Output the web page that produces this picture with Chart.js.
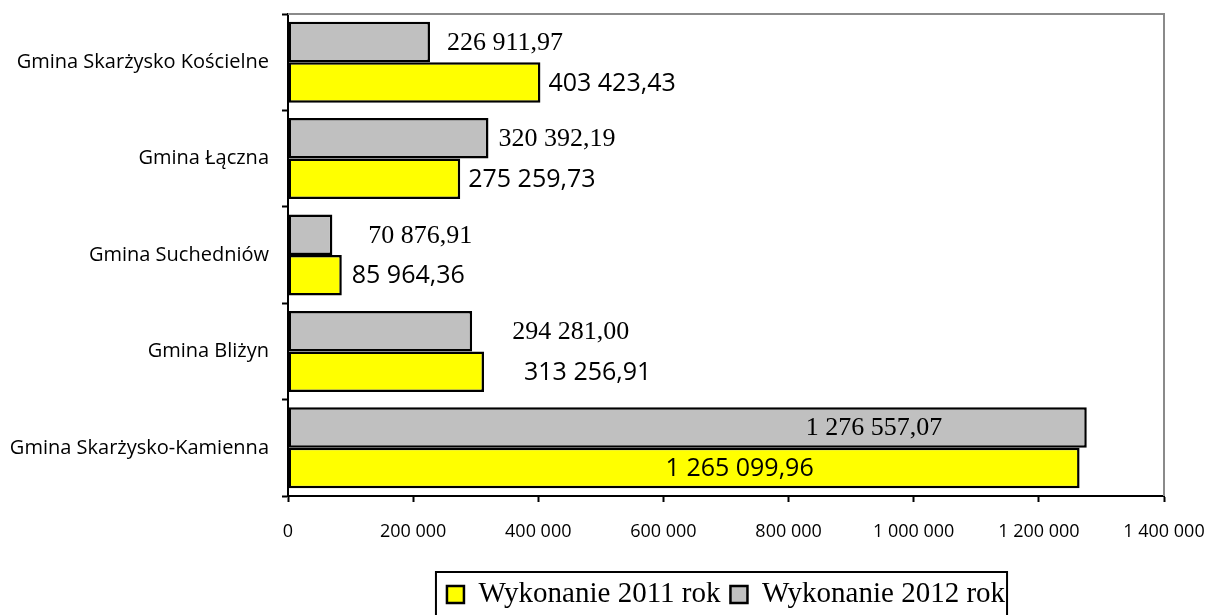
<!DOCTYPE html>
<html lang="pl">
<head>
<meta charset="utf-8">
<title>Wykonanie 2011-2012</title>
<script src="https://cdn.jsdelivr.net/npm/chart.js@4.4.1/dist/chart.umd.min.js"></script>
<style>
    html, body { margin: 0; padding: 0; background: #fff; }
    #wrap { width: 1208px; height: 615px; position: relative; }
</style>
</head>
<body>
<div id="wrap"><canvas id="barChart"></canvas></div>
<script>
const gminy = [
    'Gmina Skarżysko Kościelne',
    'Gmina Łączna',
    'Gmina Suchedniów',
    'Gmina Bliżyn',
    'Gmina Skarżysko-Kamienna'
];
const wykonanie2012 = [226911.97, 320392.19, 70876.91, 294281.00, 1276557.07];
const wykonanie2011 = [403423.43, 275259.73, 85964.36, 313256.91, 1265099.96];
const xTicks = [0, 200000, 400000, 600000, 800000, 1000000, 1200000, 1400000];

// where each value label starts, counted from the end of its bar (px)
const labelShift2012 = [17, 10, 36, 40, -281];
const labelShift2011 = [8, 8, 10, 40, -414];

function groupDigits(s) {
    return s.replace(/\B(?=(\d{3})+(?!\d))/g, ' ');
}

function fmtValue(v) {
    const [whole, dec] = v.toFixed(2).split('.');
    return groupDigits(whole) + ',' + dec;
}

// value labels next to / inside the bars
const valueLabels = {
    id: 'valueLabels',
    afterDatasetsDraw(chart) {
        const ctx = chart.ctx;
        ctx.save();
        ctx.fillStyle = '#000';
        ctx.textAlign = 'left';
        ctx.textBaseline = 'middle';
        chart.data.datasets.forEach((ds, i) => {
            const meta = chart.getDatasetMeta(i);
            ctx.font = ds.labelFont;
            meta.data.forEach((bar, j) => {
                ctx.fillText(fmtValue(ds.data[j]), bar.x + ds.labelShift[j], bar.y + 1);
            });
        });
        ctx.restore();
    }
};

// grey frame on top and right of the plot + box round the legend
const frame = {
    id: 'frame',
    afterDraw(chart) {
        const {ctx, chartArea} = chart;
        ctx.save();
        ctx.strokeStyle = '#8a8a8a';
        ctx.lineWidth = 2;
        ctx.beginPath();
        ctx.moveTo(chartArea.left, chartArea.top);
        ctx.lineTo(chartArea.right, chartArea.top);
        ctx.lineTo(chartArea.right, chartArea.bottom);
        ctx.stroke();

        const boxes = chart.legend.legendHitBoxes;
        if (boxes && boxes.length) {
            const left = Math.min(...boxes.map(b => b.left)) - 11;
            const right = Math.max(...boxes.map(b => b.left + b.width)) + 2;
            const top = Math.min(...boxes.map(b => b.top)) - 8;
            const bottom = Math.max(...boxes.map(b => b.top + b.height)) + 7;
            ctx.strokeStyle = '#000';
            ctx.lineWidth = 2;
            ctx.strokeRect(left, top, right - left, bottom - top);
        }
        ctx.restore();
    }
};

const ctx = document.getElementById('barChart').getContext('2d');

new Chart(ctx, {
    type: 'bar',
    data: {
        labels: gminy,
        datasets: [
            {
                label: 'Wykonanie 2012 rok',
                data: wykonanie2012,
                backgroundColor: '#c0c0c0',
                borderColor: '#000',
                borderWidth: 2.5,
                borderSkipped: false,
                labelFont: '26px "Liberation Serif"',
                labelShift: labelShift2012
            },
            {
                label: 'Wykonanie 2011 rok',
                data: wykonanie2011,
                backgroundColor: '#ffff00',
                borderColor: '#000',
                borderWidth: 2.5,
                borderSkipped: false,
                labelFont: '25px "Open Sans"',
                labelShift: labelShift2011
            }
        ]
    },
    options: {
        indexAxis: 'y',
        responsive: true,
        maintainAspectRatio: false,
        animation: false,
        layout: {
            padding: { top: 14, right: 44, bottom: -4, left: 0 }
        },
        datasets: {
            bar: {
                categoryPercentage: 0.84,
                barPercentage: 1.0
            }
        },
        scales: {
            x: {
                min: 0,
                max: 1400000,
                afterBuildTicks: axis => {
                    axis.ticks = xTicks.map(v => ({ value: v }));
                },
                afterFit: scale => {
                    scale.height = 74;
                    scale.paddingLeft = 0;
                    scale.paddingRight = 0;
                },
                grid: {
                    drawOnChartArea: false,
                    tickLength: 6,
                    tickWidth: 2,
                    tickColor: '#000'
                },
                border: { color: '#000', width: 2 },
                ticks: {
                    padding: 19,
                    maxRotation: 0,
                    color: '#000',
                    font: { family: '"Open Sans"', size: 18 },
                    callback: v => groupDigits(String(v))
                }
            },
            y: {
                afterFit: scale => {
                    scale.width = 288;
                    scale.paddingTop = 0;
                    scale.paddingBottom = 0;
                },
                grid: {
                    offset: true,
                    drawOnChartArea: false,
                    tickLength: 6,
                    tickWidth: 2,
                    tickColor: '#000'
                },
                border: { color: '#000', width: 2 },
                ticks: {
                    padding: 13,
                    color: '#000',
                    font: { family: '"Open Sans"', size: 20 }
                }
            }
        },
        plugins: {
            tooltip: { enabled: false },
            legend: {
                position: 'bottom',
                fullSize: false,
                reverse: true,
                labels: {
                    boxWidth: 17,
                    boxHeight: 17,
                    padding: 10,
                    color: '#000',
                    font: { family: '"Liberation Serif"', size: 29 }
                }
            }
        }
    },
    plugins: [valueLabels, frame]
});
</script>
</body>
</html>
